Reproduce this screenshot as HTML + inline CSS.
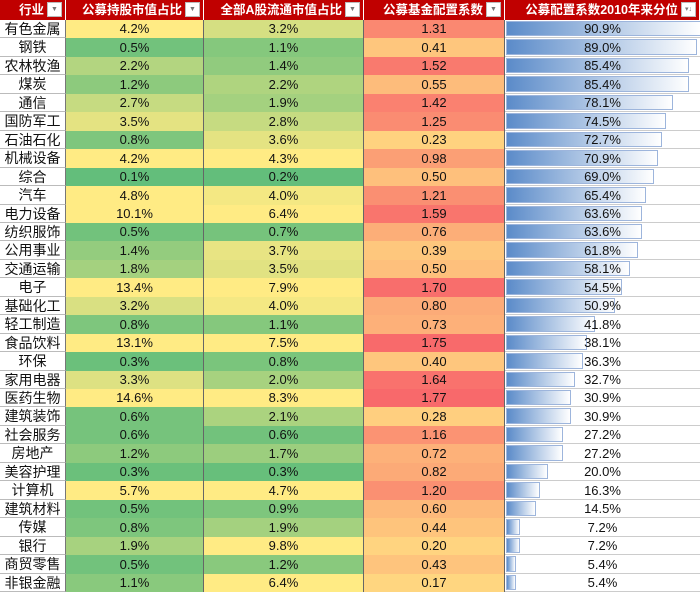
<!DOCTYPE html>
<html><head><meta charset="utf-8">
<style>
body{margin:0;width:700px;height:592px;overflow:hidden;background:#fff;font-family:"Liberation Sans","Noto Sans CJK SC",sans-serif;}
#t{position:absolute;left:0;top:0;width:700px;height:592px;}
.c{position:absolute;box-sizing:border-box;text-align:center;font-size:13px;color:#111;overflow:hidden;white-space:nowrap;}
.h{background:#c00000;color:#fff;font-weight:bold;font-size:12.5px;line-height:20px;height:20px;top:0;border-right:1px solid #fff;padding-right:21px;text-align:right !important;}
.dd{position:absolute;right:3px;top:2px;width:15px;height:15px;background:#fff;border:1px solid #bbb;box-sizing:border-box;color:#777;font-size:7px;line-height:14px;text-align:center;font-weight:normal;}
.lab{font-size:14px;border-bottom:1px solid #bbb;border-right:1px solid #777;background:#fff;}
.bar{position:absolute;left:1px;top:1px;bottom:1px;background:linear-gradient(to right,#5b8bc9,#ffffff);border:1px solid #9db5dc;box-sizing:border-box;}
.txt{position:relative;}
</style></head><body>
<div id="t"></div>
<script>
const industries=["有色金属","钢铁","农林牧渔","煤炭","通信","国防军工","石油石化","机械设备","综合","汽车","电力设备","纺织服饰","公用事业","交通运输","电子","基础化工","轻工制造","食品饮料","环保","家用电器","医药生物","建筑装饰","社会服务","房地产","美容护理","计算机","建筑材料","传媒","银行","商贸零售","非银金融"];
const fundShare=[4.2,0.5,2.2,1.2,2.7,3.5,0.8,4.2,0.1,4.8,10.1,0.5,1.4,1.8,13.4,3.2,0.8,13.1,0.3,3.3,14.6,0.6,0.6,1.2,0.3,5.7,0.5,0.8,1.9,0.5,1.1];
const marketShare=[3.2,1.1,1.4,2.2,1.9,2.8,3.6,4.3,0.2,4.0,6.4,0.7,3.7,3.5,7.9,4.0,1.1,7.5,0.8,2.0,8.3,2.1,0.6,1.7,0.3,4.7,0.9,1.9,9.8,1.2,6.4];
const coef=[1.31,0.41,1.52,0.55,1.42,1.25,0.23,0.98,0.50,1.21,1.59,0.76,0.39,0.50,1.70,0.80,0.73,1.75,0.40,1.64,1.77,0.28,1.16,0.72,0.82,1.20,0.60,0.44,0.20,0.43,0.17];
const pct=[90.9,89.0,85.4,85.4,78.1,74.5,72.7,70.9,69.0,65.4,63.6,63.6,61.8,58.1,54.5,50.9,41.8,38.1,36.3,32.7,30.9,30.9,27.2,27.2,20.0,16.3,14.5,7.2,7.2,5.4,5.4];
const headers=["行业","公募持股市值占比","全部A股流通市值占比","公募基金配置系数","公募配置系数2010年来分位"];
const cols=[[0,66],[66,138],[204,160],[364,141],[505,195]];
const T=document.getElementById('t');
function mix(a,b,t){t=Math.max(0,Math.min(1,t));return 'rgb('+a.map((x,i)=>Math.round(x+(b[i]-x)*t)).join(',')+')';}
const G=[99,190,123],Y=[255,235,132],Y2=[255,214,128],R=[248,105,107];
function cell(x,y,w,h){const d=document.createElement('div');d.className='c';d.style.left=x+'px';d.style.top=y+'px';d.style.width=w+'px';d.style.height=h+'px';d.style.lineHeight=h+'px';T.appendChild(d);return d;}
headers.forEach((hd,i)=>{const d=cell(cols[i][0],0,cols[i][1],20);d.className='c h';d.innerHTML=hd+'<span class="dd">'+(i==4?'▾↓':'▼')+'</span>';

});
const rh=572/industries.length;
const minF=Math.min(...fundShare),minM=Math.min(...marketShare),minC=Math.min(...coef),maxC=Math.max(...coef),minP=Math.min(...pct),maxP=Math.max(...pct);
industries.forEach((ind,r)=>{
 const y=Math.round(20+r*rh),h=Math.round(20+(r+1)*rh)-y;
 let d=cell(0,y,66,h);d.className='c lab';d.textContent=ind;
 
 
 d=cell(66,y,138,h);d.style.background=mix(G,Y,(fundShare[r]-minF)/(4.2-minF));d.style.borderRight='1px solid #666';d.textContent=fundShare[r].toFixed(1)+'%';
 
 
 d=cell(204,y,160,h);d.style.background=mix(G,Y,(marketShare[r]-minM)/(4.3-minM));d.style.borderRight='1px solid #666';d.textContent=marketShare[r].toFixed(1)+'%';
 
 
 d=cell(364,y,141,h);d.style.background=mix(Y2,R,(coef[r]-minC)/(maxC-minC));d.style.borderRight='1px solid #666';d.textContent=coef[r].toFixed(2);
 
 
 d=cell(505,y,195,h);d.style.borderBottom='1px solid #ccc';
 const bw=10+(pct[r]-minP)/(maxP-minP)*185;
 d.innerHTML='<div class="bar" style="width:'+bw.toFixed(1)+'px"></div><span class="txt">'+pct[r].toFixed(1)+'%</span>';
 
 
});
</script>
</body></html>
